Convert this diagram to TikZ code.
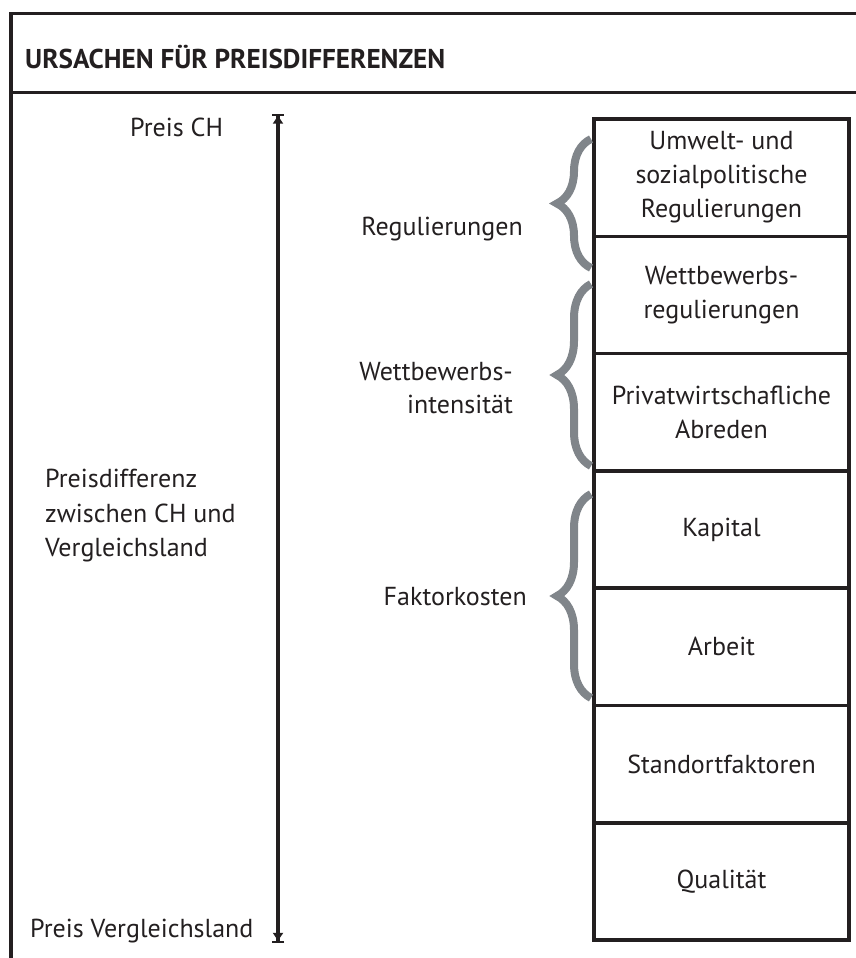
\documentclass[tikz,border=0pt]{standalone}
\usepackage{fontspec}
\setmainfont{PT Sans}
\usetikzlibrary{arrows.meta,decorations.pathreplacing}
\definecolor{ink}{RGB}{35,31,32}
\definecolor{bracegray}{RGB}{128,133,138}
\tikzset{
  frameline/.style={line width=3.5pt, draw=ink},
  cell/.style={draw=ink, line width=3.5pt, minimum width=255pt, minimum height=117.3pt, align=center, inner sep=0pt, text=ink},
  lbl/.style={text=ink, inner sep=0pt},
  bracket/.style={draw=bracegray, line width=8pt, decorate, decoration={brace, amplitude=34pt, aspect=0.5}},
}
\begin{document}
\begin{tikzpicture}[x=1pt,y=-1pt,font=\fontsize{26}{34}\selectfont]
\useasboundingbox (0,0) rectangle (856,958);
% frame
\draw[frameline] (11,975) -- (11,13.5) -- (880,13.5);
\draw[frameline] (11,92.5) -- (880,92.5);
\node[lbl, anchor=base west, font=\bfseries\fontsize{27.2}{30}\selectfont] (title) at (25,68) {URSACHEN FÜR PREISDIFFERENZEN};
% boxes
\node[cell] (b1) at (721.5,177.65) {Umwelt- und\\sozialpolitische\\Regulierungen};
\node[cell] (b2) at (721.5,294.95) {Wettbewerbs-\\regulierungen};
\node[cell] (b3) at (721.5,412.25) {Privatwirtschafliche\\Abreden};
\node[cell] (b4) at (721.5,529.55) {Kapital};
\node[cell] (b5) at (721.5,646.85) {Arbeit};
\node[cell] (b6) at (721.5,764.15) {Standortfaktoren};
\node[cell] (b7) at (721.5,881.45) {Qualität};
% arrow
\coordinate (atop) at (278,113.5);
\coordinate (abot) at (278,943);
\draw[draw=ink, line width=3.2pt, {Bar[width=12pt,line width=2.2pt,sep=0pt]Triangle[length=8pt,width=10pt,sep=0pt]}-{Triangle[length=8pt,width=10pt,sep=0pt]Bar[width=12pt,line width=2.2pt,sep=0pt]}] (atop) -- (abot);
% left labels
\node[lbl, anchor=base west] (pch) at (130,136) {Preis CH};
\node[lbl, anchor=base west] (pdiff1) at (45,487) {Preisdifferenz};
\node[lbl, anchor=base west] (pdiff2) at (45,522) {zwischen CH und};
\node[lbl, anchor=base west] (pdiff3) at (45,556) {Vergleichsland};
\node[lbl, anchor=base west] (pvgl) at (30,937) {Preis Vergleichsland};
% braces
\coordinate (r1a) at (591,268); \coordinate (r1b) at (591,139);
\coordinate (r2a) at (591,466); \coordinate (r2b) at (591,284);
\coordinate (r3a) at (591,698); \coordinate (r3b) at (591,494);
\draw[bracket] (r1a) -- (r1b);
\draw[bracket] (r2a) -- (r2b);
\draw[bracket] (r3a) -- (r3b);
\node[lbl, anchor=base east] (reg) at (523,235) {Regulierungen};
\node[lbl, anchor=base east] (wett1) at (513,380) {Wettbewerbs-};
\node[lbl, anchor=base east] (wett2) at (513,413) {intensität};
\node[lbl, anchor=base east] (fakt) at (527,605) {Faktorkosten};
\end{tikzpicture}
\end{document}
